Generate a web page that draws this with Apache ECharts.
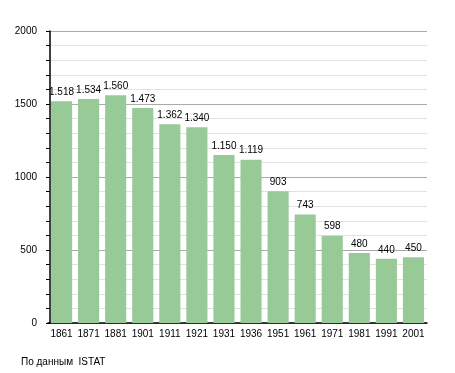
<!DOCTYPE html>
<html><head><meta charset="utf-8">
<script src="https://cdn.jsdelivr.net/npm/echarts@6/dist/echarts.min.js"></script>
<style>html,body{margin:0;padding:0;background:#fff}#c{width:455px;height:373px}</style>
</head><body><div id="c"></div>
<script>
const years = ['1861','1871','1881','1901','1911','1921','1931','1936','1951','1961','1971','1981','1991','2001'];
const population = [1518,1534,1560,1473,1362,1340,1150,1119,903,743,598,480,440,450];
const yTicks = [0,500,1000,1500,2000];
const sourceText = 'По данным  ISTAT';

const FONT = '"Liberation Sans", Arial, sans-serif';
const chart = echarts.init(document.getElementById('c'), null, {renderer:'canvas'});
const fmt = v => v >= 1000 ? Math.floor(v/1000) + '.' + String(v%1000).padStart(3,'0') : String(v);
chart.setOption({
  animation:false,
  grid:{left:48, right:28, top:31, bottom:50},
  graphic:[{type:'text', left:21, top:357, style:{text:sourceText, font:'10px ' + FONT, fill:'#000'}}],
  xAxis:{
    type:'category', data:years,
    axisLine:{lineStyle:{color:'#000', width:1.5}},
    axisTick:{show:false},
    axisLabel:{color:'#000', fontFamily:FONT, fontSize:10, margin:6, interval:0}
  },
  yAxis:{
    type:'value', min:0, max:2000, interval:500, offset:-2,
    axisLine:{show:true, lineStyle:{color:'#000', width:1.5}},
    axisTick:{show:true, length:4, lineStyle:{color:'#000'}},
    minorTick:{show:true, splitNumber:5, length:4, lineStyle:{color:'#000'}},
    splitLine:{show:true, lineStyle:{color:'#aaa', width:1}},
    minorSplitLine:{show:true, lineStyle:{color:'#e2e2e2', width:1}},
    axisLabel:{color:'#000', fontFamily:FONT, fontSize:10, margin:13,
      formatter: v => yTicks.includes(v) ? String(v) : ''}
  },
  series:[{
    type:'bar', data:population, barCategoryGap:'22%',
    itemStyle:{color:'#98ca98'},
    label:{show:true, position:'top', distance:4, color:'#000', fontFamily:FONT, fontSize:10,
      formatter: p => fmt(p.value)}
  }]
});
</script></body></html>
